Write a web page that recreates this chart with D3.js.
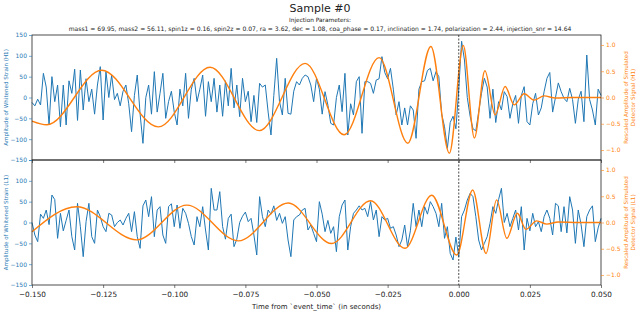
<!DOCTYPE html>
<html>
<head>
<meta charset="utf-8">
<script src="https://cdn.jsdelivr.net/npm/d3@7"></script>
<style>
  body { margin: 0; background: #fff; }
  svg text { font-family: "DejaVu Sans", sans-serif; }
</style>
</head>
<body>
<svg id="chart" width="640" height="311"></svg>
<script>
// whitened strain, one sample per ms from -0.150 s to 0.050 s
const sampleTimes = d3.range(201).map(i => -0.150 + i * 0.001);

const strainH1 = [
  -12, -20, -4, -18, 58, 25, -66, 50, -10, 30,
  -70, 30, -66, 40, 10, 68, -55, 66, -30, 45,
  -10, 20, -40, 30, 74, -54, 62, 0, 54, -5,
  10, -20, 15, 30, -15, -82, 5, 54, -40, -110,
  0, 30, -40, 62, -35, 10, 58, -50, -10, 15,
  -35, -66, 20, -20, 58, -50, 20, 46, -10, 20,
  54, -45, 38, -10, 46, -35, 30, -45, 40, -20,
  70, -25, 30, -46, 46, -10, 15, -58, 5, -60,
  34, 25, 30, -35, -90, 5, 94, -10, -42, 46,
  -38, -40, 15, 38, 30, 46, 54, 50, 30, -10,
  46, 20, -40, 14, -18, -62, -66, 0, 30, -34,
  58, -90, -15, -42, 38, 50, -86, 38, 38, 34,
  10, 42, 45, 98, 60, 45, 70, 20, -42, -10,
  -66, -25, -66, -20, -30, -98, 20, 38, 40, 65,
  70, 40, 62, 50, -40, -70, -122, -60, -45, -75,
  20, 135, 90, 0, -45, -75, -80, -35, 10, 46,
  25, -50, 20, -60, -10, -30, 14, 2, -50, -15,
  5, -62, 5, 26, -58, -66, -15, 10, -42, -25,
  14, 46, 60, -35, 0, 35, 14, -2, -10, 22,
  -5, -62, -5, 15, -58, 102, -5, -30, -66, 20,
  5
];

const strainL1 = [
  0, -30, -46, 20, 10, 30, -5, 66, 55, -38,
  22, -20, 5, 30, -34, -66, 46, -10, -82, 2,
  46, -34, -50, 30, 14, -10, -22, 22, 18, -10,
  0, 6, -6, 10, 22, -22, 26, -34, -62, 40,
  54, 14, 62, -34, 30, 38, -30, -50, 38, 45,
  -10, 42, -14, 34, 22, -2, -34, -54, 14, -10,
  38, -18, -66, 82, 30, 30, 74, -10, -40, 10,
  20, -58, -40, 0, 15, 25, 2, 10, -30, -78,
  62, 14, -10, 30, 20, 40, 5, 22, -2, 14,
  -42, -82, 6, 14, 18, 30, 34, -18, -6, -26,
  -46, 50, 20, -22, 5, -26, -10, -70, 14, 42,
  54, -66, -10, 22, 30, 40, 30, 34, 14, 50,
  6, 30, -34, 14, 6, 10, -14, -10, -30, -58,
  -42, -6, -58, -20, 46, -10, 30, -10, 38, 20,
  50, 38, 22, -10, 46, -38, -10, -74, -90, -35,
  -82, 14, 30, 54, 70, 62, 14, -42, -66, -50,
  -34, -2, 38, 22, 55, 82, 0, 22, -10, 10,
  30, -18, 38, -66, 10, -20, 22, -10, 2, -22,
  14, 30, 10, -30, 46, 40, -22, 38, -25, 62,
  30, -50, 30, -5, -58, 14, 30, 40, -46, -13,
  10
];

// rescaled injected signal, read at its turning points
const signalH1Times = [-0.150, -0.1448, -0.1255, -0.1056, -0.0874, -0.0701, -0.0540, -0.0403, -0.0280, -0.0179,
  -0.0098, -0.0033, 0.0016, 0.0055, 0.0092, 0.0128, 0.0163, 0.0195, 0.0230, 0.0265, 0.0300, 0.0340, 0.0400, 0.0500];
const signalH1 = [-0.45, -0.52, 0.52, -0.56, 0.575, -0.63, 0.65, -0.71, 0.76, -0.87,
  0.97, -1.06, 0.99, -0.77, 0.51, -0.33, 0.21, -0.14, 0.07, -0.05, 0.03, -0.01, 0.0, 0.0];

const signalL1Times = [-0.150, -0.1343, -0.1132, -0.0956, -0.0775, -0.0599, -0.0447, -0.0310, -0.0189, -0.0095,
  -0.0007, 0.0049, 0.0096, 0.0133, 0.0169, 0.0206, 0.0236, 0.0274, 0.0310, 0.0350, 0.0420, 0.0500];
const signalL1 = [-0.175, 0.30, -0.33, 0.33, -0.35, 0.37, -0.40, 0.415, -0.49, 0.52,
  -0.62, 0.62, -0.59, 0.43, -0.30, 0.175, -0.13, 0.03, -0.03, 0.01, 0.0, 0.0];

const strainTicks = [-150, -100, -50, 0, 50, 100, 150];
const signalTicks = [-1.0, -0.5, 0.0, 0.5, 1.0];
const timeTicks = [-0.150, -0.125, -0.100, -0.075, -0.050, -0.025, 0.000, 0.025, 0.050];

const params = "mass1 = 69.95, mass2 = 56.11, spin1z = 0.16, spin2z = 0.07, ra = 3.62, dec = 1.08, coa_phase = 0.17, inclination = 1.74, polarization = 2.44, injection_snr = 14.64";

const blue = "#1f77b4", orange = "#ff7f0e";
const left = 32, right = 601;

const svg = d3.select("#chart");

const x = d3.scaleLinear().domain([-0.150, 0.050]).range([left, right]);

const panels = [
  { name: "H1", top: 35, bottom: 160, strain: strainH1, sigT: signalH1Times, sig: signalH1 },
  { name: "L1", top: 160, bottom: 285, strain: strainL1, sigT: signalL1Times, sig: signalL1 }
];

panels.forEach((p, idx) => {
  const yL = d3.scaleLinear().domain([-150, 150]).range([p.bottom, p.top]);
  const yR = d3.scaleLinear().domain([-1.19, 1.19]).range([p.bottom, p.top]);
  const g = svg.append("g");

  g.append("path")
    .datum(p.strain)
    .attr("fill", "none")
    .attr("stroke", blue)
    .attr("stroke-width", 1)
    .attr("stroke-linejoin", "round")
    .attr("d", d3.line().x((d, i) => x(sampleTimes[i])).y(d => yL(d)));

  g.append("path")
    .datum(p.sig)
    .attr("fill", "none")
    .attr("stroke", orange)
    .attr("stroke-width", 1.4)
    .attr("d", d3.line().curve(d3.curveMonotoneX).x((d, i) => x(p.sigT[i])).y(d => yR(d)));

  g.append("rect")
    .attr("x", left).attr("y", p.top)
    .attr("width", right - left).attr("height", p.bottom - p.top)
    .attr("fill", "none").attr("stroke", "#222").attr("stroke-width", 0.8);

  // the lower panel's top label would sit on the upper panel's bottom one
  const leftFormat = d => (idx === 1 && d === 150) ? "" : d3.format("d")(d);
  const axL = g.append("g")
    .attr("transform", `translate(${left},0)`)
    .call(d3.axisLeft(yL).tickValues(strainTicks).tickFormat(leftFormat).tickSize(3).tickPadding(2));
  axL.select(".domain").remove();
  axL.selectAll("line").attr("stroke", blue).attr("stroke-width", 0.6);
  axL.selectAll("text").attr("fill", blue).style("font-size", "6px");

  const axR = g.append("g")
    .attr("transform", `translate(${right},0)`)
    .call(d3.axisRight(yR).tickValues(signalTicks).tickFormat(d3.format(".1f")).tickSize(3).tickPadding(2));
  axR.select(".domain").remove();
  axR.selectAll("line").attr("stroke", orange).attr("stroke-width", 0.6);
  axR.selectAll("text").attr("fill", orange).style("font-size", "6px");

  const axB = g.append("g")
    .attr("transform", `translate(0,${p.bottom})`)
    .call(d3.axisBottom(x).tickValues(timeTicks).tickSize(3).tickPadding(4).tickFormat(idx === 1 ? d3.format(".3f") : ""));
  axB.select(".domain").remove();
  axB.selectAll("line").attr("stroke", "#222").attr("stroke-width", 0.6);
  axB.selectAll("text").attr("fill", "#222").style("font-size", "7.3px");

  const yc = (p.top + p.bottom) / 2;
  svg.append("text")
    .attr("transform", `translate(8,${yc}) rotate(-90)`)
    .attr("text-anchor", "middle")
    .attr("fill", blue)
    .style("font-size", "5.6px")
    .text(`Amplitude of Whitened Strain (${p.name})`);

  svg.append("text")
    .attr("transform", `translate(628,${yc}) rotate(-90)`)
    .attr("text-anchor", "middle")
    .attr("fill", orange)
    .style("font-size", "5.6px")
    .text("Rescaled Amplitude of Simulated");
  svg.append("text")
    .attr("transform", `translate(635,${yc}) rotate(-90)`)
    .attr("text-anchor", "middle")
    .attr("fill", orange)
    .style("font-size", "5.6px")
    .text(`Detector Signal (${p.name})`);
});

// event time marker
svg.append("line")
  .attr("x1", x(0)).attr("x2", x(0))
  .attr("y1", panels[0].top).attr("y2", panels[1].bottom)
  .attr("stroke", "#222").attr("stroke-width", 0.8)
  .attr("stroke-dasharray", "2,1.5");

svg.append("text")
  .attr("x", 320).attr("y", 12)
  .attr("text-anchor", "middle")
  .attr("fill", "#222")
  .style("font-size", "11px")
  .text("Sample #0");

svg.append("text")
  .attr("x", 320).attr("y", 22)
  .attr("text-anchor", "middle")
  .attr("fill", "#222")
  .style("font-size", "5.8px")
  .text("Injection Parameters:");

svg.append("text")
  .attr("x", 320).attr("y", 30.5)
  .attr("text-anchor", "middle")
  .attr("fill", "#222")
  .style("font-size", "6.05px")
  .text(params);

svg.append("text")
  .attr("x", (left + right) / 2).attr("y", 309)
  .attr("text-anchor", "middle")
  .attr("fill", "#222")
  .style("font-size", "7px")
  .text("Time from `event_time` (in seconds)");
</script>
</body>
</html>
